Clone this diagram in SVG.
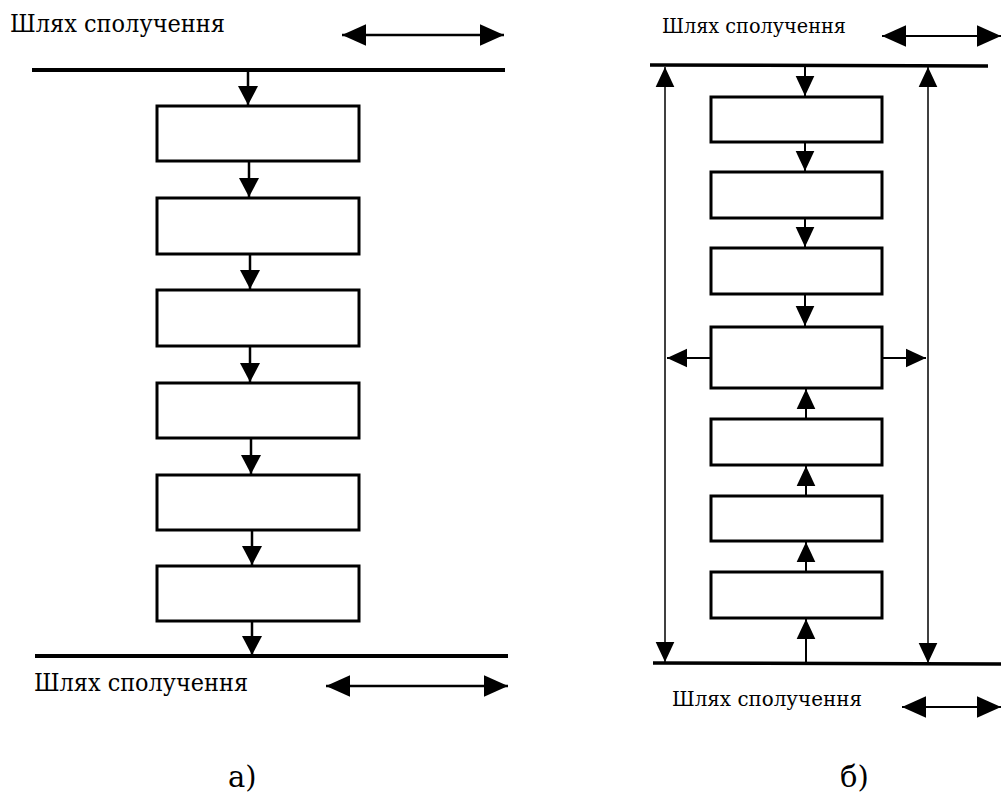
<svg xmlns="http://www.w3.org/2000/svg" width="1001" height="805" viewBox="0 0 1001 805">
<style>
.bg{fill:#fff}
.lbl{fill:#000}
.box{fill:#fff;stroke:#000;stroke-width:3}
.bus{stroke:#000;stroke-width:4;fill:none}
.busr{stroke:#000;stroke-width:3.5;fill:none}
.ca{stroke:#000;stroke-width:2.5;fill:none}
.cb{stroke:#000;stroke-width:2;fill:none}
.cv{stroke:#000;stroke-width:1.5;fill:none}
</style>
<defs>
<marker id="ah" markerUnits="userSpaceOnUse" markerWidth="20" markerHeight="20" refX="17" refY="9" orient="auto-start-reverse" viewBox="0 0 17 18">
<path d="M0,0 L17,9 L0,18 Z" fill="#000"/>
</marker>
<marker id="ahs" markerUnits="userSpaceOnUse" markerWidth="20" markerHeight="20" refX="15" refY="7" orient="auto-start-reverse" viewBox="0 0 15 14">
<path d="M0,0 L15,7 L0,14 Z" fill="#000"/>
</marker>
<marker id="ahd" markerUnits="userSpaceOnUse" markerWidth="24" markerHeight="24" refX="20" refY="9" orient="auto-start-reverse" viewBox="0 0 20 18">
<path d="M0,0 L20,9 L0,18 Z" fill="#000"/>
</marker>
</defs>
<rect class="bg" x="0" y="0" width="1001" height="805"/>

<g id="labels" font-family="'DejaVu Serif', 'Liberation Serif', serif">
<text class="lbl" x="10" y="32" font-size="25" textLength="215" lengthAdjust="spacingAndGlyphs">Шлях сполучення</text>
<text class="lbl" x="34" y="691" font-size="25" textLength="214" lengthAdjust="spacingAndGlyphs">Шлях сполучення</text>
<text class="lbl" x="662" y="33" font-size="21" textLength="184" lengthAdjust="spacingAndGlyphs">Шлях сполучення</text>
<text class="lbl" x="672" y="706" font-size="21" textLength="190" lengthAdjust="spacingAndGlyphs">Шлях сполучення</text>
<text class="lbl" x="228" y="787" font-size="29">а)</text>
<text class="lbl" x="840" y="787" font-size="29">б)</text>
</g>

<g id="buses">
<line class="bus" x1="32" y1="70" x2="505" y2="70"/>
<line class="bus" x1="35" y1="656" x2="508" y2="656"/>
<line class="busr" x1="650" y1="65" x2="988" y2="66"/>
<line class="busr" x1="653" y1="663" x2="1001" y2="664"/>
</g>

<g id="a-nodes">
<rect id="a1" class="box" x="157" y="106" width="202" height="55"/>
<rect id="a2" class="box" x="157" y="198" width="202" height="56"/>
<rect id="a3" class="box" x="157" y="290" width="202" height="56"/>
<rect id="a4" class="box" x="157" y="383" width="202" height="55"/>
<rect id="a5" class="box" x="157" y="475" width="202" height="55"/>
<rect id="a6" class="box" x="157" y="566" width="202" height="55"/>
</g>

<g id="b-nodes">
<rect id="b1" class="box" x="711" y="97" width="171" height="45"/>
<rect id="b2" class="box" x="711" y="172" width="171" height="46"/>
<rect id="b3" class="box" x="711" y="248" width="171" height="46"/>
<rect id="b4" class="box" x="711" y="327" width="171" height="61"/>
<rect id="b5" class="box" x="711" y="419" width="171" height="46"/>
<rect id="b6" class="box" x="711" y="496" width="171" height="45"/>
<rect id="b7" class="box" x="711" y="572" width="171" height="46"/>
</g>

<g id="connectors">
<line class="ca" x1="342" y1="35" x2="504" y2="35" marker-start="url(#ahd)" marker-end="url(#ahd)"/>
<line class="ca" x1="326" y1="686" x2="508" y2="686" marker-start="url(#ahd)" marker-end="url(#ahd)"/>
<line class="cb" x1="882" y1="36" x2="1001" y2="36" marker-start="url(#ahd)" marker-end="url(#ahd)"/>
<line class="cb" x1="902" y1="707" x2="1001" y2="707" marker-start="url(#ahd)" marker-end="url(#ahd)"/>

<line class="ca" x1="248" y1="72" x2="248" y2="105" marker-end="url(#ah)"/>
<line class="ca" x1="249" y1="162" x2="249" y2="197" marker-end="url(#ah)"/>
<line class="ca" x1="250" y1="255" x2="250" y2="289" marker-end="url(#ah)"/>
<line class="ca" x1="250" y1="347" x2="250" y2="382" marker-end="url(#ah)"/>
<line class="ca" x1="251" y1="439" x2="251" y2="474" marker-end="url(#ah)"/>
<line class="ca" x1="252" y1="531" x2="252" y2="565" marker-end="url(#ah)"/>
<line class="ca" x1="252" y1="622" x2="252" y2="655" marker-end="url(#ah)"/>

<line class="cb" x1="805" y1="66" x2="805" y2="96" marker-end="url(#ahs)"/>
<line class="cb" x1="805" y1="143" x2="805" y2="171" marker-end="url(#ahs)"/>
<line class="cb" x1="805" y1="219" x2="805" y2="247" marker-end="url(#ahs)"/>
<line class="cb" x1="805" y1="295" x2="805" y2="326" marker-end="url(#ahs)"/>
<line class="cb" x1="806" y1="418" x2="806" y2="389" marker-end="url(#ahs)"/>
<line class="cb" x1="806" y1="495" x2="806" y2="466" marker-end="url(#ahs)"/>
<line class="cb" x1="806" y1="571" x2="806" y2="542" marker-end="url(#ahs)"/>
<line class="cb" x1="806" y1="662" x2="806" y2="619" marker-end="url(#ahs)"/>

<line class="cv" x1="665" y1="662" x2="665" y2="67" marker-start="url(#ahs)" marker-end="url(#ahs)"/>
<line class="cv" x1="928" y1="663" x2="928" y2="67" marker-start="url(#ahs)" marker-end="url(#ahs)"/>
<line class="cb" x1="710" y1="358" x2="667" y2="358" marker-end="url(#ahs)"/>
<line class="cb" x1="883" y1="358" x2="926" y2="358" marker-end="url(#ahs)"/>
</g>
</svg>
